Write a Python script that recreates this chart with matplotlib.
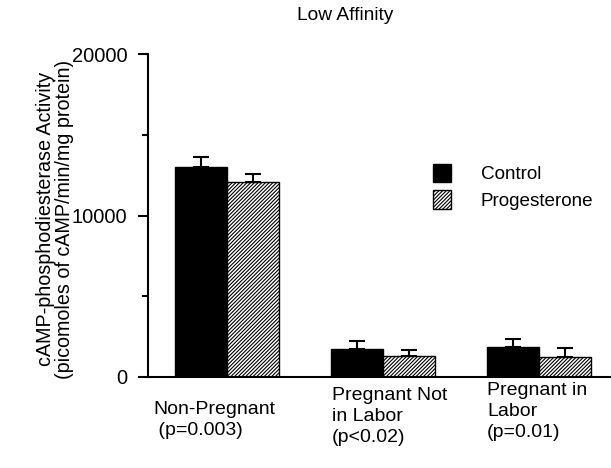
import matplotlib
matplotlib.use("Agg")
import matplotlib.pyplot as plt
import numpy as np

plt.rcParams['font.family'] = ['Liberation Sans', 'DejaVu Sans']
plt.rcParams['hatch.linewidth'] = 0.8

categories = ["Non-Pregnant\n (p=0.003)", "Pregnant Not\nin Labor\n(p<0.02)", "Pregnant in\nLabor\n(p=0.01)"]
control = [13000, 1730, 1840]
control_err = [600, 500, 490]
progesterone = [12070, 1300, 1260]
progesterone_err = [500, 370, 550]

fig = plt.figure(figsize=(6.11, 4.68), dpi=100)
ax = fig.add_axes([148/611, 1-377/468, (611-148)/611, (377-54)/468])

x = np.arange(len(categories))
w = 0.333
ax.bar(x - w/2, control, w, color='black', edgecolor='black', linewidth=1, label='Control')
ax.bar(x + w/2, progesterone, w, color='white', edgecolor='black', linewidth=1,
       hatch='/////////', label='Progesterone')
ax.errorbar(x - w/2, control, yerr=[np.zeros(3), control_err], fmt='none',
            ecolor='black', elinewidth=1.5, capsize=6, capthick=1.5)
ax.errorbar(x + w/2, progesterone, yerr=[np.zeros(3), progesterone_err], fmt='none',
            ecolor='black', elinewidth=1.5, capsize=6, capthick=1.5)

ax.set_xlim(-0.506, 2.46)
ax.set_ylim(0, 20000)
ax.set_yticks([0, 10000, 20000])
ax.set_yticks([5000, 15000], minor=True)
ax.set_yticklabels(["0", "10000", "20000"], fontsize=14.5)
ax.tick_params(axis='y', which='major', length=7, width=1.5, pad=8)
ax.tick_params(axis='y', which='minor', length=4, width=1.5)
ax.set_xticks([])
for s in ['top', 'right']:
    ax.spines[s].set_visible(False)
ax.spines['left'].set_linewidth(1.5)
ax.spines['bottom'].set_linewidth(1.5)

label_x = [153, 332, 487]
label_y = [401, 387, 382]
for cat, lx, ly in zip(categories, label_x, label_y):
    fig.text(lx/611, 1-ly/468, cat, ha='left', va='top', fontsize=14, linespacing=1.3)

fig.text(345/611, 1-15/468, "Low Affinity", ha='center', va='center', fontsize=13.8)
fig.text(55/611, 1-219/468, "cAMP-phosphodiesterase Activity\n(picomoles of cAMP/min/mg protein)",
         rotation=90, ha='center', va='center', fontsize=14.2, linespacing=1.0)

leg = ax.legend(loc='upper left', bbox_to_anchor=((425-148)/463, (377-156)/323),
                frameon=False, fontsize=13.6, handlelength=0.95, handleheight=1.15,
                handletextpad=1.6, labelspacing=0.35, borderaxespad=0)

fig.savefig("out.png", dpi=100)
